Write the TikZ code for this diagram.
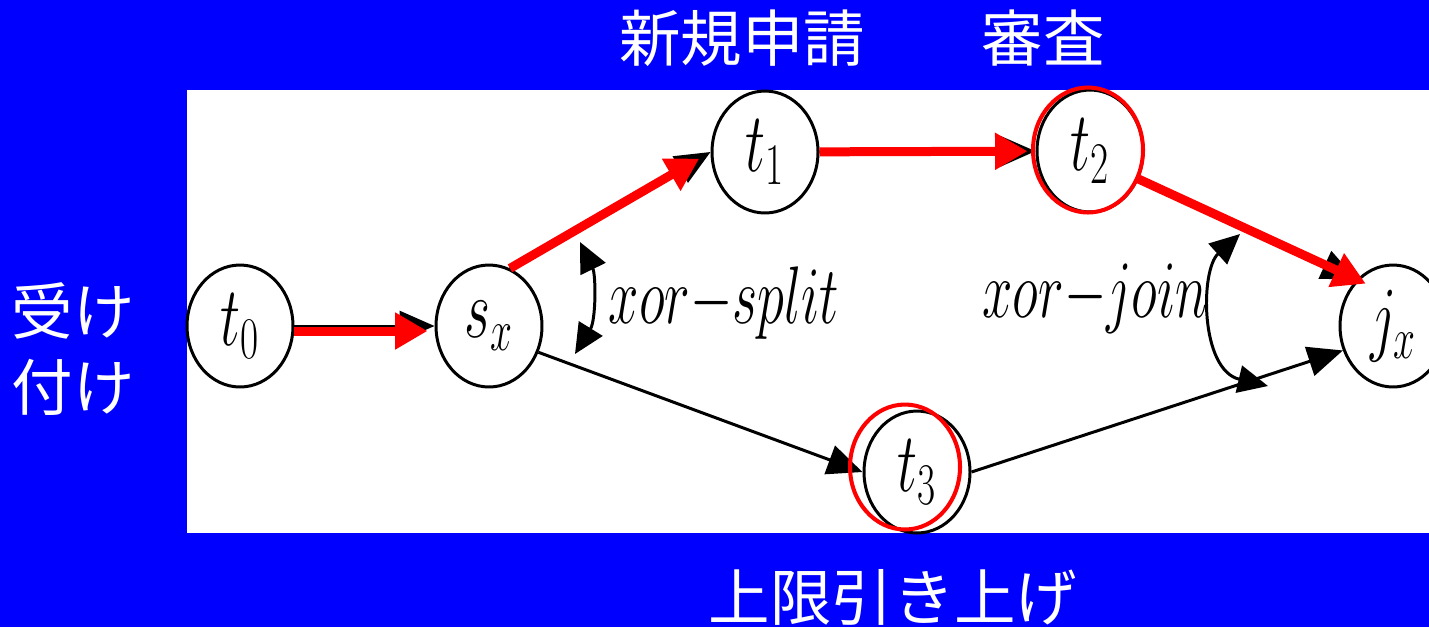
\RequirePackage{fix-cm}
\documentclass[tikz,border=0pt]{standalone}
\usepackage{graphicx}
\usepackage{fontspec}
\newfontfamily\cjk{Noto Sans CJK JP}
\usetikzlibrary{arrows.meta, shapes.geometric}
\definecolor{slideblue}{RGB}{0, 0, 255}
\definecolor{pathred} {RGB}{255, 0, 0}
\newcommand{\tall}[1]{\scalebox{1}[1.5]{$#1$}}

\begin{document}
\begin{tikzpicture}[x=0.02cm, y=-0.02cm,
    place/.style={draw, ellipse, line width=1.7pt, minimum width=2.12cm,
      minimum height=2.44cm, inner sep=0pt, font=\fontsize{32}{32}\selectfont},
    ring/.style={draw=pathred, ellipse, line width=2.3pt, minimum width=2.2cm,
      minimum height=2.5cm, inner sep=0pt},
    flow/.style={-{Triangle[length=0.7cm, width=0.6cm]}, line width=1.7pt},
    xorarc/.style={{Triangle[length=0.6cm, width=0.55cm]}-{Triangle[length=0.6cm, width=0.55cm]},
      line width=1.7pt},
    hot/.style={-{Triangle[length=0.65cm, width=0.7cm]}, pathred, line width=0.18cm},
    gate/.style={font=\fontsize{31}{31}\selectfont, inner sep=0pt, anchor=base},
    slidetext/.style={text=white, font=\cjk\fontsize{35}{43.7}\selectfont, inner sep=0pt}]
        \useasboundingbox (0,0) rectangle (1429,627);

        % Slide and white canvas
        \fill[slideblue] (0,0) rectangle (1429,627);
        \fill[white] (187,90) rectangle (1429,533);

        % Places
        \node[place] (t0) at (240,326) {\tall{t_0}};
        \node[place] (sx) at (489,326) {\tall{s_x}};
        \node[place] (t1) at (765,152) {\tall{t_1}};
        \node[place] (t2) at (1090,151) {\tall{t_2}};
        \node[place] (t3) at (917,472) {\tall{t_3}};
        \node[place] (jx) at (1393,326) {\tall{j_x}};

        % Flow
        \draw[flow] (t0) -- (sx);
        \draw[flow] (sx.70) -- (t1.west);
        \draw[flow] (t1) -- (t2);
        \draw[flow] (t2.-30) -- (jx.128);
        \draw[flow] (sx.-28) -- (t3.west);
        \draw[flow] (t3.east) -- (jx.206);

        % xor-split / xor-join
        \coordinate (splitA) at (580,242);
        \coordinate (splitB) at (575,354);
        \draw[xorarc] (splitA) .. controls (596,275) and (596,320) .. (splitB);
        \node[gate] (split) at (724,323) {\scalebox{1}[1.5]{$xor{-}split$}};

        \coordinate (joinA) at (1240,234);
        \coordinate (joinB) at (1268,386);
        \draw[xorarc] (joinA) .. controls (1200,270) and (1200,370) .. (joinB);
        \node[gate] (join) at (1095,317) {\scalebox{1}[1.5]{$xor{-}join$}};

        % Highlighted route
        \draw[hot, shorten >=0.14cm, transform canvas={yshift=-0.1cm}] (t0) -- (sx);
        \draw[hot, shorten >=0.26cm] (sx.70) -- (t1.west);
        \draw[hot, shorten >=0.16cm] (t1) -- (t2);
        \draw[hot, shorten >=-0.2cm] (t2.-30) -- (jx.128);
        \node[ring] (ring2) at (1088,150) {};
        \node[ring] (ring3) at (905,467) {};

        % Captions
        \node[slidetext] (apply) at (742,38) {新規申請};
        \node[slidetext] (review) at (1043,38) {審査};
        \node[slidetext, align=center] (accept) at (73,349) {受け\\付け};
        \node[slidetext] (raise) at (893,597) {上限引き上げ};
      \end{tikzpicture}
\end{document}
